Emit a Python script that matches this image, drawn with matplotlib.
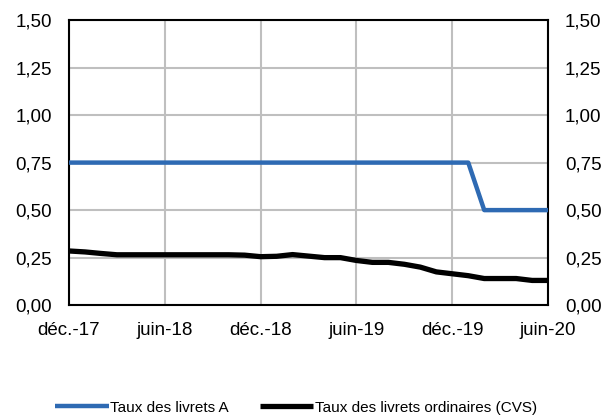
import matplotlib
matplotlib.use("Agg")
import matplotlib.pyplot as plt

# monthly, déc.-17 .. juin-20
months = list(range(31))
tick_pos = [0, 6, 12, 18, 24, 30]
tick_labels = ["déc.-17", "juin-18", "déc.-18", "juin-19", "déc.-19", "juin-20"]

livret_a = [0.75] * 26 + [0.50] * 5
livrets_ord = [0.285, 0.28, 0.272, 0.265, 0.265, 0.265, 0.265, 0.265, 0.265,
               0.265, 0.265, 0.263, 0.255, 0.257, 0.266, 0.258, 0.25, 0.25,
               0.235, 0.225, 0.225, 0.215, 0.20, 0.175, 0.165, 0.155, 0.14,
               0.14, 0.14, 0.13, 0.13]

y_ticks = [0.0, 0.25, 0.5, 0.75, 1.0, 1.25, 1.5]
y_labels = ["0,00", "0,25", "0,50", "0,75", "1,00", "1,25", "1,50"]

plt.rcParams['font.family'] = ['Liberation Sans', 'DejaVu Sans']

fig = plt.figure(figsize=(6.08, 4.18), dpi=100)
ax = fig.add_axes([0.1135, 0.270, 0.788, 0.682])

grid_c = '#BFBFBF'
ax.plot(months, livret_a, color='#2E6AB3', lw=3.2, solid_capstyle='butt',
        label='Taux des livrets A', zorder=3)
ax.plot(months, livrets_ord, color='black', lw=3.8, solid_capstyle='butt',
        label='Taux des livrets ordinaires (CVS)', zorder=3)

ax.set_xlim(0, 30)
ax.set_ylim(0, 1.5)
ax.set_xticks(tick_pos)
ax.set_xticklabels(tick_labels)
ax.set_yticks(y_ticks)
ax.set_yticklabels(y_labels)
ax.grid(True, color=grid_c, lw=1.5)
ax.set_axisbelow(True)
for s in ax.spines.values():
    s.set_color('black')
    s.set_linewidth(1.5)
ax.tick_params(length=0, labelsize=13.5, labelright=True)
ax.tick_params(axis='y', pad=12)
ax.tick_params(axis='x', pad=12)

fig.legend(loc='lower center', bbox_to_anchor=(0.487, -0.025), ncol=2,
           frameon=False, fontsize=11, handlelength=3.5, handletextpad=0.1,
           columnspacing=2.0)

fig.savefig('out.png', dpi=100)
